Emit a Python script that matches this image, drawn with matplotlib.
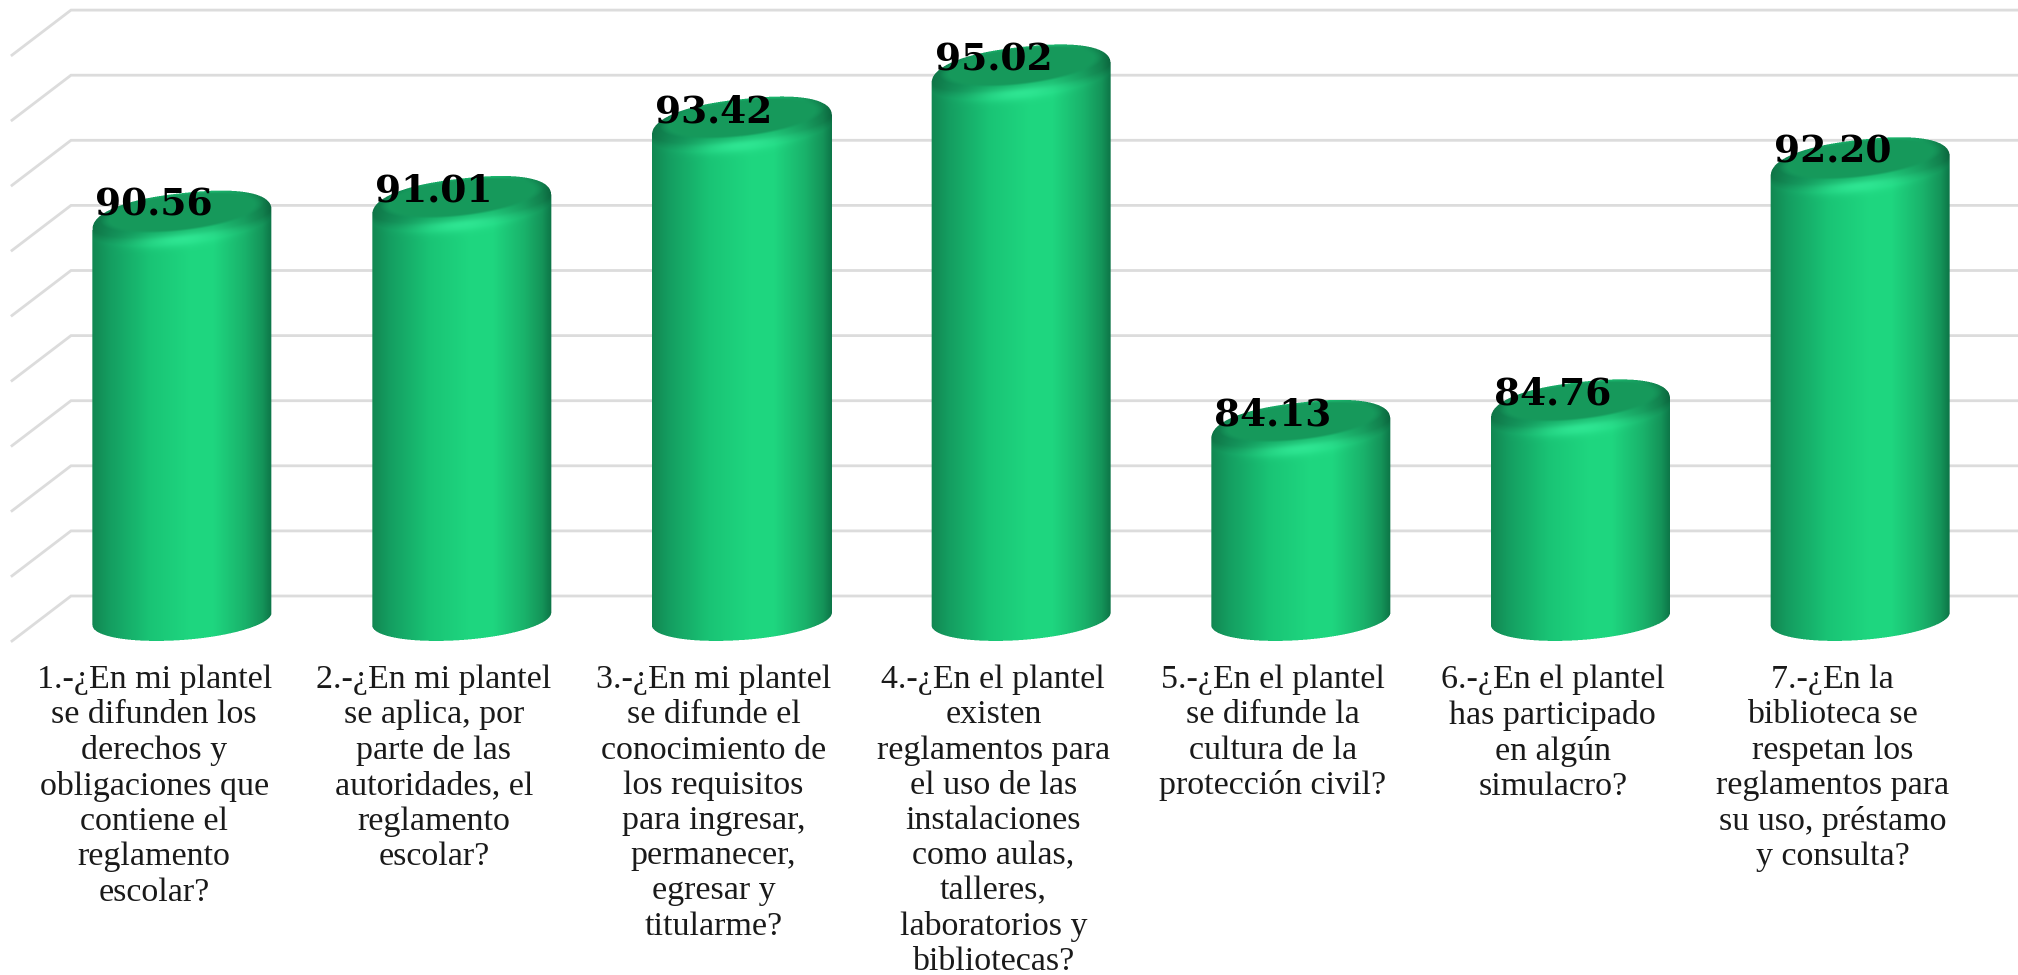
import numpy as np
import matplotlib.pyplot as plt

categories = [
    "1.-¿En mi plantel\nse difunden los\nderechos y\nobligaciones que\ncontiene el\nreglamento\nescolar?",
    "2.-¿En mi plantel\nse aplica, por\nparte de las\nautoridades, el\nreglamento\nescolar?",
    "3.-¿En mi plantel\nse difunde el\nconocimiento de\nlos requisitos\npara ingresar,\npermanecer,\negresar y\ntitularme?",
    "4.-¿En el plantel\nexisten\nreglamentos para\nel uso de las\ninstalaciones\ncomo aulas,\ntalleres,\nlaboratorios y\nbibliotecas?",
    "5.-¿En el plantel\nse difunde la\ncultura de la\nprotección civil?",
    "6.-¿En el plantel\nhas participado\nen algún\nsimulacro?",
    "7.-¿En la\nbiblioteca se\nrespetan los\nreglamentos para\nsu uso, préstamo\ny consulta?",
]
values = [90.56, 91.01, 93.42, 95.02, 84.13, 84.76, 92.20]
grid_values = [78, 80, 82, 84, 86, 88, 90, 92, 94, 96]

W, H = 2018, 975
BAR_STEP = 279.7
UNIT = 32.55


def body_colour(u):
    stops = [-1.0, -0.8, -0.35, 0.1, 0.35, 0.7, 0.9, 1.0]
    r = [0.07, 0.08, 0.10, 0.12, 0.12, 0.10, 0.08, 0.05]
    g = [0.53, 0.62, 0.77, 0.84, 0.84, 0.70, 0.58, 0.46]
    b = [0.32, 0.38, 0.46, 0.50, 0.50, 0.42, 0.35, 0.28]
    return np.dstack([np.interp(u, stops, r), np.interp(u, stops, g), np.interp(u, stops, b)])


def draw_cylinder(ax, i, value, floor):
    # work in screen pixels, y pointing down, then hand the raster back in data units
    sx, sy = ax.transData.transform((i, value))
    _, sf = ax.transData.transform((i, floor))
    cx = sx
    ct = H - sy + 33
    cb = H - sf + 23
    a, bt, bb = 89.5, 27.0, 21.0
    tilt_t, tilt_b = -0.11, -0.07

    x0, x1 = int(cx - a - 3), int(cx + a + 3)
    y0, y1 = int(ct - bt - 15), int(cb + bb + 15)
    ss = 3
    xs = x0 + (np.arange((x1 - x0) * ss) + 0.5) / ss
    ys = y0 + (np.arange((y1 - y0) * ss) + 0.5) / ss
    x, y = np.meshgrid(xs, ys)
    dx = x - cx
    u = dx / a
    half = np.sqrt(np.clip(1 - u ** 2, 0, 1))
    # slightly squarer outline for the cap gives the rounded shoulders
    half_top = np.clip(1 - np.abs(u) ** 2.35, 0, 1) ** (1 / 2.35)
    st = y - tilt_t * dx
    sb = y - tilt_b * dx
    inside = (np.abs(u) <= 1) & (st >= ct - bt * half_top) & (sb <= cb + bb * half)

    rgb = body_colour(u)

    # the bevel sits darker than the body, fading out below the rim
    d = st - (ct + 2 + 17 * half)
    shade = 1 - 0.14 * np.clip(-d / 8.0 + 0.5, 0, 1)
    rgb = rgb * shade[..., None]

    # thin glow along the front rim of the cap
    glow = np.exp(-(d / 7.0) ** 2) * np.exp(-(dx / (0.5 * a)) ** 2)
    rim = np.array([0.20, 0.93, 0.60])
    rgb = rgb + (rim - rgb) * (0.8 * glow)[..., None]

    # flat top of the cap
    w = (st - (ct - 8)) / (bt * 0.66)
    r = np.sqrt((dx / (a * 0.86)) ** 2 + w ** 2)
    flat = np.clip((1.06 - r) / 0.12, 0, 1)
    flat_col = np.array([0.088, 0.60, 0.36])
    rgb = rgb + (flat_col - rgb) * flat[..., None]

    alpha = inside.astype(float)
    img = np.dstack([rgb, alpha])
    n_y, n_x = y1 - y0, x1 - x0
    img = img.reshape(n_y, ss, n_x, ss, 4)
    a_in = img[..., 3:]
    col = (img[..., :3] * a_in).mean(axis=(1, 3))
    al = a_in.mean(axis=(1, 3))
    col = col / np.maximum(al, 1e-6)
    out = np.dstack([np.clip(col, 0, 1), al])

    inv = ax.transData.inverted()
    left, top = inv.transform((x0, H - y0))
    right, bottom = inv.transform((x1, H - y1))
    ax.imshow(out, extent=(left, right, bottom, top), aspect="auto",
              interpolation="nearest", zorder=3)


fig = plt.figure(figsize=(W / 100, H / 100), dpi=100)
ax = fig.add_axes([0, 0, 1, 1])
ax.set_xlim(-182 / BAR_STEP, (W - 182) / BAR_STEP)
ax.set_ylim(78 - (H - 596) / UNIT, 78 + 596 / UNIT)
ax.axis("off")

# back wall lines and their run down the side wall
back_x = (71 - 182) / BAR_STEP
side_x = (12 - 182) / BAR_STEP
drop = 45 / UNIT
for g in grid_values:
    ax.plot([side_x, back_x, ax.get_xlim()[1]], [g - drop, g, g],
            color="#dcdcdc", lw=2.0, solid_joinstyle="miter", zorder=1)

floor = grid_values[0]
for i, v in enumerate(values):
    draw_cylinder(ax, i, v, floor)
    ax.annotate(f"{v:.2f}", (i, v), xytext=(-20, -13), textcoords="offset points",
                ha="center", va="center", fontsize=27, fontweight="bold",
                family="DejaVu Serif", color="black", zorder=5)
    ax.annotate(categories[i], (i, floor), xytext=(-20, -49.5), textcoords="offset points",
                ha="center", va="top", fontsize=24.5, family="Liberation Serif",
                color="#1a1a1a", linespacing=1.2, zorder=5)

ax.set_xlim(-182 / BAR_STEP, (W - 182) / BAR_STEP)
ax.set_ylim(78 - (H - 596) / UNIT, 78 + 596 / UNIT)
fig.savefig("out.png", dpi=100)
